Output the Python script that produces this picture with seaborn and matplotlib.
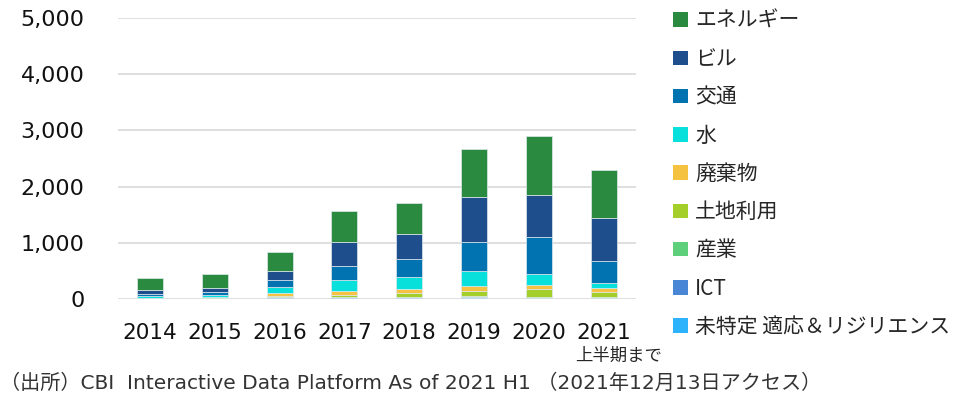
import pandas as pd
import matplotlib.pyplot as plt
import seaborn as sns
from matplotlib.patches import Patch

years = [2014, 2015, 2016, 2017, 2018, 2019, 2020, 2021]
year_labels = ['2014', '2015', '2016', '2017', '2018', '2019', '2020', '2021']

categories = ['エネルギー', 'ビル', '交通', '水', '廃棄物', '土地利用', '産業', 'ICT', '未特定 適応＆リジリエンス']

energy = [212, 243, 337, 545, 538, 847, 1037, 840]
building = [68, 65, 160, 426, 456, 793, 757, 775]
transport = [30, 59, 124, 243, 319, 527, 657, 379]
water = [36, 36, 101, 201, 200, 254, 195, 105]
waste = [8, 8, 60, 71, 77, 95, 71, 62]
land_use = [10, 15, 10, 36, 71, 89, 137, 92]
industry = [3, 5, 8, 10, 10, 12, 15, 12]
ict = [2, 3, 8, 8, 8, 25, 8, 8]
unspecified = [5, 10, 25, 23, 23, 20, 18, 17]

colours = ['#2A8B40', '#1F4E8C', '#0173B1', '#07E0DB', '#F5C242',
           '#A4CF2A', '#5ECF7A', '#4A86D6', '#2DB3FB']

series = [energy, building, transport, water, waste, land_use, industry, ict, unspecified]
rows = []
for cat, vals in zip(categories, series):
    for y, v in zip(years, vals):
        rows.append({'year': y, 'category': cat, 'value': v})
df = pd.DataFrame(rows)

sns.set_style('white')
plt.rcParams['font.family'] = ['DejaVu Sans', 'Noto Sans CJK JP']

fig = plt.figure(figsize=(9.65, 4.01), dpi=100)
ax = fig.add_axes([0.122, 0.254, 0.537, 0.701])

sns.histplot(df, x='year', weights='value', hue='category', hue_order=categories,
             palette=colours, multiple='stack', discrete=True, shrink=0.4,
             alpha=1, edgecolor='#dfe8ee', linewidth=0.5, legend=False, ax=ax,
             zorder=3)

ax.set_xlim(2013.5, 2021.5)
ax.set_ylim(0, 5000)
ax.set_yticks(range(0, 5001, 1000))
ax.set_yticklabels([f'{v:,}' for v in range(0, 5001, 1000)], fontsize=16,
                   family='DejaVu Sans', color='#111111')
ax.set_xticks(years)
ax.set_xticklabels(year_labels, fontsize=15.5, family='DejaVu Sans', color='#111111')
ax.tick_params(axis='y', length=0, pad=24)
ax.tick_params(axis='x', length=0, pad=17)
ax.yaxis.grid(True, color='#d9d9d9', linewidth=1.2, zorder=0)
ax.set_axisbelow(True)
for s in ax.spines.values():
    s.set_visible(False)
ax.set_xlabel('')
ax.set_ylabel('')

fig.text(0.641, 0.113, '上半期まで', fontsize=12.5, ha='center', va='center',
         family=['Noto Sans CJK JP'])
fig.text(0.0, 0.045, '（出所）CBI  Interactive Data Platform As of 2021 H1 （2021年12月13日アクセス）',
         fontsize=14.5, ha='left', va='center', family=['DejaVu Sans', 'Noto Sans CJK JP'],
         color='#333333')

handles = [Patch(facecolor=c, edgecolor='none') for c in colours]
fig.legend(handles, categories, loc='upper left', bbox_to_anchor=(0.678, 1.022),
           frameon=False, handlelength=0.7, handleheight=0.7, handletextpad=0.35,
           labelspacing=0.78, prop={'family': ['Noto Sans CJK JP'], 'size': 15})

fig.savefig('out.png', dpi=100)
